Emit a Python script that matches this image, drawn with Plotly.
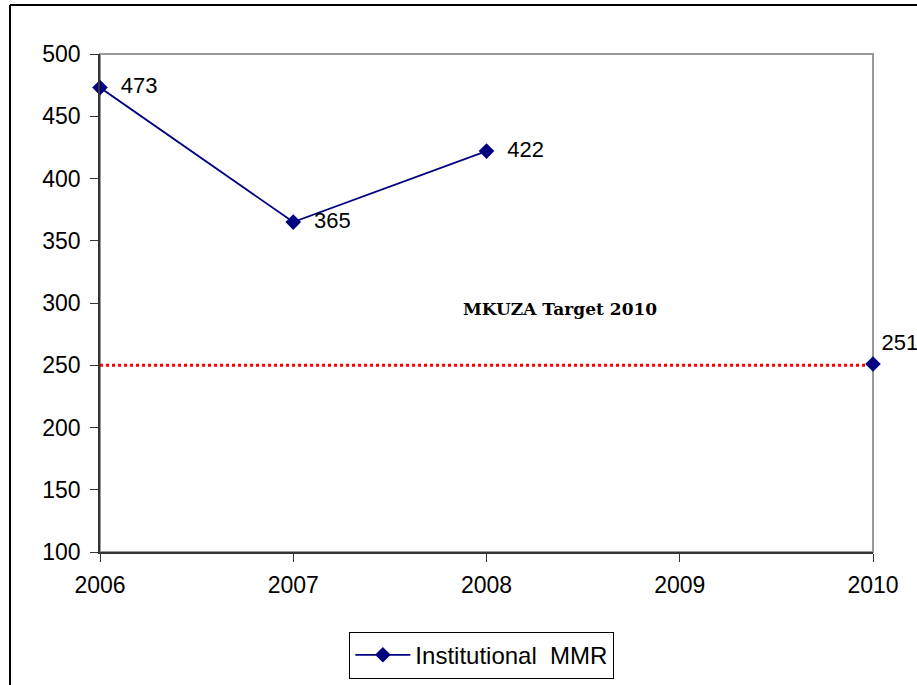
import plotly.graph_objects as go

years = [2006, 2007, 2008, 2009, 2010]
mmr = [473, 365, 422, None, 251]
mmr_labels = ["473", "365", "422", "", "251"]
label_pos = ["middle right", "middle right", "middle right", "middle right", "top right"]
target_years = [2006, 2010]
target_values = [250, 250]
y_ticks = [100, 150, 200, 250, 300, 350, 400, 450, 500]
x_ticks = [2006, 2007, 2008, 2009, 2010]

FONT = "Liberation Sans, Arial, sans-serif"
NAVY = "#000080"
NB = "\u00a0"

fig = go.Figure()

fig.add_trace(go.Scatter(
    x=target_years, y=target_values, mode="lines",
    line=dict(color="#ff0000", width=3, dash="dot"),
    showlegend=False, hoverinfo="skip",
))

fig.add_trace(go.Scatter(
    x=years, y=mmr, mode="lines+markers+text",
    name="Institutional  MMR",
    line=dict(color=NAVY, width=1.8),
    marker=dict(symbol="diamond", size=12, color=NAVY),
    text=[(NB * 2 + t) if t and t != "251" else t for t in mmr_labels],
    textposition=label_pos,
    textfont=dict(family=FONT, size=22, color="black"),
    connectgaps=False,
    cliponaxis=False,
))

fig.add_annotation(
    x=2008.38, y=295, xref="x", yref="y",
    text="<b>MKUZA Target 2010</b>", showarrow=False,
    font=dict(family="DejaVu Serif, Liberation Serif, serif", size=17, color="black"),
)

# plot-area border (gray top/right)
fig.add_shape(type="rect", xref="paper", yref="paper", x0=0, y0=0, x1=1, y1=1,
              line=dict(color="#999999", width=2), layer="below")
# outer frame lines (top and left)
fig.add_shape(type="line", xref="paper", yref="paper",
              x0=(10 - 100) / 773, x1=(917 - 100) / 773 + 0.01,
              y0=(552 - 5) / 498, y1=(552 - 5) / 498,
              line=dict(color="black", width=2))
fig.add_shape(type="line", xref="paper", yref="paper",
              x0=(10 - 100) / 773, x1=(10 - 100) / 773,
              y0=(552 - 5) / 498, y1=(552 - 700) / 498,
              line=dict(color="black", width=2))

fig.update_xaxes(
    range=[2006, 2010], tickvals=x_ticks, ticktext=[str(v) for v in x_ticks],
    showgrid=False, zeroline=False, showline=True, linecolor="#333333", linewidth=1.5,
    ticks="outside", ticklen=8, tickcolor="#333333", ticklabelstandoff=4,
    tickfont=dict(family=FONT, size=23, color="black"),
)
fig.update_yaxes(
    range=[100, 500], tickvals=y_ticks,
    showgrid=False, zeroline=False, showline=True, linecolor="#333333", linewidth=1.5,
    ticks="outside", ticklen=8, tickcolor="#333333", ticklabelstandoff=5,
    tickfont=dict(family=FONT, size=23, color="black"),
)

fig.update_layout(
    width=917, height=685,
    margin=dict(l=100, r=44, t=54, b=133, autoexpand=False),
    paper_bgcolor="white", plot_bgcolor="white",
    legend=dict(
        x=0.494, y=-0.16, xanchor="center", yanchor="top",
        bordercolor="black", borderwidth=1, itemwidth=55,
        font=dict(family=FONT, size=24, color="black"),
    ),
    showlegend=True,
)

fig.write_html("out.html", config={"displayModeBar": False},
               post_script="document.body.style.margin='0';")
